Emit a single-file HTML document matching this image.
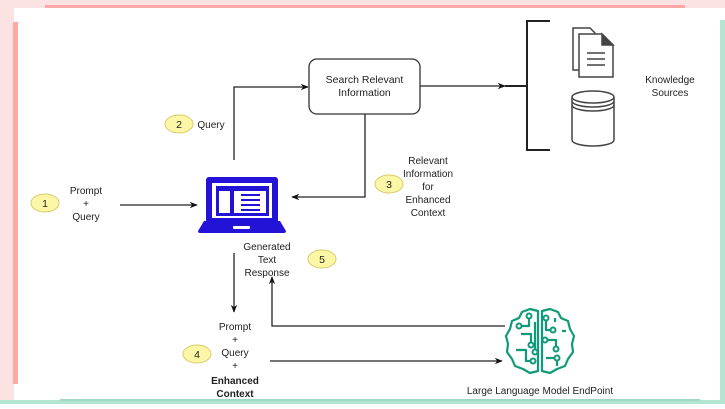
<!DOCTYPE html>
<html><head><style>
html,body{margin:0;padding:0;}
body{width:725px;height:404px;overflow:hidden;background:#fff;font-family:"Liberation Sans",sans-serif;}
</style></head><body>
<svg width="725" height="404" xmlns="http://www.w3.org/2000/svg" font-family="Liberation Sans, sans-serif">
<defs>
<marker id="a" viewBox="0 0 10 10" refX="9" refY="5" markerWidth="8" markerHeight="8" orient="auto" markerUnits="userSpaceOnUse"><path d="M0,1 L10,5 L0,9 L3,5 z" fill="#111"/></marker>
</defs>
<rect x="0" y="0" width="725" height="404" fill="#fff"/>
<!-- frame -->
<rect x="0" y="0" width="725" height="8" fill="#fde2e4"/>
<rect x="45" y="5" width="640" height="3" fill="#ffa8a8"/>
<rect x="0" y="0" width="14" height="404" fill="#fde2e4"/>
<rect x="13" y="22" width="5" height="362" fill="#ffaaa0"/>
<rect x="720" y="20" width="5" height="384" fill="#b4e4d2"/>
<rect x="0" y="400" width="725" height="4" fill="#b4e4d2"/>
<rect x="60" y="399" width="640" height="2" fill="#9fd8c4"/>

<!-- connectors -->
<g stroke="#222" stroke-width="1.3" fill="none">
<path d="M234 160 V87 H308" marker-end="url(#a)"/>
<path d="M420 86 H505" marker-end="url(#a)"/>
<path d="M505 86 H527 M550 21 H527 V150 H550" stroke-width="2"/>
<path d="M365 114 V197 H292" marker-end="url(#a)"/>
<path d="M120 205 H197" marker-end="url(#a)"/>
<path d="M234 253 V312" marker-end="url(#a)"/>
<path d="M505 326 H272 V277" marker-end="url(#a)"/>
<path d="M270 361 H502" marker-end="url(#a)"/>
</g>

<!-- search box -->
<rect x="309" y="59" width="111" height="55" rx="8" fill="#fff" stroke="#333" stroke-width="1.3"/>
<text x="364.5" y="83" font-size="10.5" text-anchor="middle" fill="#222">Search Relevant</text>
<text x="364.5" y="96" font-size="10.5" text-anchor="middle" fill="#222">Information</text>

<!-- documents -->
<g stroke="#444" stroke-width="1.5" fill="#fff">
<path d="M573 28 H590 L595 33 V70 H573 Z"/>
<path d="M579 34 H602 L613 45 V77 H579 Z"/>
<path d="M602 34 L613 45 H602 Z" fill="#444"/>
<path d="M587 53 H605 M587 59 H605 M587 65 H605" />
</g>
<!-- database -->
<g stroke="#444" stroke-width="1.5" fill="#fff">
<path d="M572 97 V140 A21 6 0 0 0 614 140 V97"/>
<ellipse cx="593" cy="97" rx="21" ry="6"/>
<path d="M572 101 A21 6 0 0 0 614 101 M572 105 A21 6 0 0 0 614 105" fill="none"/>
</g>
<text x="670" y="83" font-size="10" text-anchor="middle" fill="#222">Knowledge</text>
<text x="670" y="96" font-size="10" text-anchor="middle" fill="#222">Sources</text>

<!-- laptop -->
<g>
<rect x="206" y="177" width="72" height="46" rx="3" fill="#2213d6"/>
<rect x="212" y="183" width="60" height="35" fill="#fff"/>
<rect x="216" y="186" width="53" height="30" fill="#2213d6"/>
<rect x="219" y="191" width="11" height="22" fill="#fff"/>
<rect x="234" y="191" width="32" height="22" fill="#fff"/>
<g stroke="#2213d6" stroke-width="2"><path d="M241 195 H260 M241 200 H260 M241 205 H260 M241 210 H260"/></g>
<path d="M204 221 H280 L286 231 Q286 233 284 233 H200 Q198 233 198 231 Z" fill="#2213d6"/>
<rect x="233" y="226" width="17" height="3" rx="1" fill="#fff"/>
</g>

<!-- badges -->
<g fill="#fbf7a6" stroke="#d8cc68" stroke-width="1">
<ellipse cx="45" cy="203" rx="14" ry="9"/>
<ellipse cx="179" cy="124" rx="14" ry="9"/>
<ellipse cx="389" cy="184" rx="14" ry="9"/>
<ellipse cx="197" cy="354" rx="14" ry="9"/>
<ellipse cx="322" cy="259" rx="14" ry="9"/>
</g>
<g font-size="10.5" text-anchor="middle" fill="#222">
<text x="45" y="207">1</text>
<text x="179" y="128">2</text>
<text x="389" y="188">3</text>
<text x="197" y="358">4</text>
<text x="322" y="263">5</text>
</g>

<g font-size="10" text-anchor="middle" fill="#222">
<text x="86" y="194">Prompt</text>
<text x="86" y="207">+</text>
<text x="86" y="220">Query</text>
<text x="211" y="128">Query</text>
<text x="428" y="164">Relevant</text>
<text x="428" y="177">Information</text>
<text x="428" y="190">for</text>
<text x="428" y="203">Enhanced</text>
<text x="428" y="216">Context</text>
<text x="267" y="250">Generated</text>
<text x="267" y="263">Text</text>
<text x="267" y="276">Response</text>
<text x="235" y="330">Prompt</text>
<text x="235" y="343">+</text>
<text x="235" y="356">Query</text>
<text x="235" y="369">+</text>
<text x="235" y="384" font-weight="bold">Enhanced</text>
<text x="235" y="397" font-weight="bold">Context</text>
<text x="540" y="394">Large Language Model EndPoint</text>
</g>

<!-- brain -->
<g stroke="#0f9a7a" stroke-width="2.2" fill="none" stroke-linejoin="round">
<path d="M538 311 L530 309 L522 312 L519 318 L512 321 L510 329 L506 336 L508 344 L507 352 L512 359 L515 366 L523 369 L530 373 L538 371 Z"/>
<path d="M542 311 L550 309 L558 312 L561 318 L568 321 L570 329 L574 336 L572 344 L573 352 L568 359 L565 366 L557 369 L550 373 L542 371 Z"/>
<path d="M529 316 V326 H519 M521 334 H531 V345 M516 350 H526 V361 H533 M535 322 V352 M546 318 V330 H553 M545 340 H556 V349 M546 358 H557 V366 M562 331 H566 M555 322 V318"/>
</g>
<g fill="#fff" stroke="#0f9a7a" stroke-width="2">
<circle cx="529" cy="316" r="2.5"/><circle cx="519" cy="326" r="2.5"/><circle cx="531" cy="345" r="2.5"/>
<circle cx="535" cy="352" r="2.5"/><circle cx="533" cy="361" r="2.5"/><circle cx="546" cy="318" r="2.5"/>
<circle cx="553" cy="330" r="2.5"/><circle cx="545" cy="340" r="2.5"/><circle cx="556" cy="349" r="2.5"/>
<circle cx="557" cy="358" r="2.5"/>
</g>
</svg>
</body></html>
